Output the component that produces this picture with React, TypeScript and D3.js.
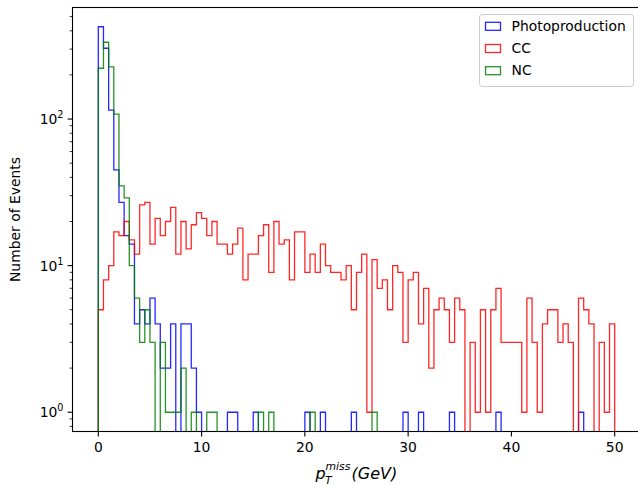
import * as d3 from "d3";
import { useEffect, useRef } from "react";

// 100 bins, 0.5 GeV wide, from 0 to 50 GeV
const binStart = 0;
const binWidth = 0.5;

const photoproduction = [
  426, 304, 115, 45, 27, 16, 14, 4, 5, 4,
  6, 4, 2, 2, 4, 0, 4, 4, 2, 1,
  0, 0, 0, 0, 0, 1, 1, 0, 0, 0,
  1, 0, 0, 0, 0, 0, 0, 0, 0, 0,
  1, 0, 0, 1, 0, 0, 0, 0, 0, 1,
  0, 0, 0, 0, 0, 0, 0, 0, 0, 1,
  0, 0, 1, 0, 0, 0, 0, 0, 1, 0,
  0, 0, 0, 0, 0, 0, 0, 1, 0, 0,
  0, 0, 0, 0, 0, 0, 0, 0, 0, 0,
  0, 0, 0, 1, 0, 0, 0, 0, 0, 0,
];

const cc = [
  5, 8, 10, 17, 16, 20, 15, 12, 26, 27,
  14, 21, 16, 20, 25, 12, 20, 13, 19, 23,
  21, 16, 20, 14, 14, 12, 14, 18, 8, 12,
  12, 16, 19, 9, 20, 14, 15, 8, 17, 17,
  9, 12, 9, 14, 10, 9, 9, 8, 10, 5,
  9, 12, 1, 11, 7, 8, 5, 10, 9, 3,
  8, 9, 4, 7, 2, 5, 6, 5, 3, 6,
  5, 0, 3, 1, 5, 1, 5, 7, 3, 3,
  3, 3, 1, 6, 3, 1, 4, 5, 5, 3,
  4, 3, 0, 6, 5, 4, 0, 3, 1, 4,
];

const nc = [
  222, 334, 227, 108, 35, 29, 10, 6, 3, 5,
  3, 0, 3, 1, 1, 1, 2, 0, 1, 0,
  0, 1, 1, 0, 0, 0, 0, 0, 0, 0,
  0, 1, 0, 1, 0, 0, 0, 0, 0, 0,
  0, 1, 0, 0, 0, 0, 0, 0, 0, 0,
  0, 0, 0, 1, 0, 0, 0, 0, 0, 0,
  0, 0, 0, 0, 0, 0, 0, 0, 0, 0,
  0, 0, 0, 0, 0, 0, 0, 0, 0, 0,
  0, 0, 0, 0, 0, 0, 0, 0, 0, 0,
  0, 0, 0, 0, 0, 0, 0, 0, 0, 0,
];

const seriesNames = ["Photoproduction", "CC", "NC"];
const seriesColors = ["#0000ff", "#ff0000", "#008000"];
const xTicks = [0, 10, 20, 30, 40, 50];
const yTickExponents = [0, 1, 2];

const FONT = "DejaVu Sans, sans-serif";

const App = () => {
  const ref = useRef(null);

  useEffect(() => {
    const svg = d3.select(ref.current);
    svg.selectAll("*").remove();

    const width = 638;
    const height = 486;
    const left = 72.5;
    const right = 640.5; // right spine falls just outside the picture
    const top = 7.5;
    const bottom = 431.5;

    svg.attr("width", width).attr("height", height);

    const allSeries = [photoproduction, cc, nc];
    const nBins = cc.length;
    const xMax = binStart + nBins * binWidth;

    // matplotlib-like 5% margins
    const pad = (xMax - binStart) * 0.05;
    const x = d3.scaleLinear().domain([binStart - pad, xMax + pad]).range([left, right]);

    const maxV = d3.max(allSeries.flat());
    const L = Math.log10(maxV);
    const y = d3
      .scaleLog()
      .domain([Math.pow(10, -0.05 * L), Math.pow(10, 1.05 * L)])
      .range([bottom, top]);

    svg
      .append("defs")
      .append("clipPath")
      .attr("id", "plot-clip")
      .append("rect")
      .attr("x", left)
      .attr("y", top)
      .attr("width", right - left)
      .attr("height", bottom - top);

    // step outlines, empty bins drop below the axis
    const yv = (v) => (v > 0 ? y(v) : bottom + 20);
    const line = d3
      .line()
      .x((d) => x(d[0]))
      .y((d) => yv(d[1]));

    const g = svg.append("g").attr("clip-path", "url(#plot-clip)");
    allSeries.forEach((counts, si) => {
      const pts = [[binStart, 0]];
      counts.forEach((c, i) => {
        const e0 = binStart + i * binWidth;
        pts.push([e0, c]);
        pts.push([e0 + binWidth, c]);
      });
      pts.push([xMax, 0]);
      g.append("path")
        .attr("d", line(pts))
        .attr("fill", "none")
        .attr("stroke", seriesColors[si])
        .attr("stroke-opacity", 0.85)
        .attr("stroke-width", 1.3);
    });

    // spines
    svg
      .append("rect")
      .attr("x", left)
      .attr("y", top)
      .attr("width", right - left)
      .attr("height", bottom - top)
      .attr("fill", "none")
      .attr("stroke", "black")
      .attr("stroke-width", 1.1);

    // x ticks
    const xt = svg.append("g");
    xTicks.forEach((t) => {
      xt.append("line")
        .attr("x1", x(t))
        .attr("x2", x(t))
        .attr("y1", bottom)
        .attr("y2", bottom + 4.9)
        .attr("stroke", "black")
        .attr("stroke-width", 1.1);
      xt.append("text")
        .attr("x", x(t))
        .attr("y", bottom + 20.5)
        .attr("text-anchor", "middle")
        .attr("font-family", FONT)
        .attr("font-size", 13.9)
        .text(t);
    });

    // y ticks, major and minor
    const yt = svg.append("g");
    const [d0, d1] = y.domain();
    for (let e = Math.floor(Math.log10(d0)); e <= Math.ceil(Math.log10(d1)); e++) {
      for (let m = 2; m <= 9; m++) {
        const v = m * Math.pow(10, e);
        if (v < d0 || v > d1) continue;
        yt.append("line")
          .attr("x1", left)
          .attr("x2", left - 2.8)
          .attr("y1", y(v))
          .attr("y2", y(v))
          .attr("stroke", "black")
          .attr("stroke-width", 0.8);
      }
    }
    yTickExponents.forEach((e) => {
      const v = Math.pow(10, e);
      yt.append("line")
        .attr("x1", left)
        .attr("x2", left - 4.9)
        .attr("y1", y(v))
        .attr("y2", y(v))
        .attr("stroke", "black")
        .attr("stroke-width", 1.1);
      const t = yt
        .append("text")
        .attr("x", left - 9)
        .attr("y", y(v) + 5)
        .attr("text-anchor", "end")
        .attr("font-family", FONT)
        .attr("font-size", 13.9);
      t.append("tspan").text("10");
      t.append("tspan").attr("dy", -6).attr("font-size", 9.7).text(e);
    });

    // axis labels
    svg
      .append("text")
      .attr("transform", `translate(20,${(top + bottom) / 2}) rotate(-90)`)
      .attr("text-anchor", "middle")
      .attr("font-family", FONT)
      .attr("font-size", 13.9)
      .text("Number of Events");

    const x0 = 315.5;
    const by = 479;
    const xl = svg
      .append("g")
      .attr("font-family", FONT)
      .attr("font-style", "italic");
    xl.append("text").attr("x", x0).attr("y", by).attr("font-size", 16).text("p");
    xl.append("text").attr("x", x0 + 10).attr("y", by - 9.5).attr("font-size", 10.8).text("miss");
    xl.append("text").attr("x", x0 + 9.5).attr("y", by + 5).attr("font-size", 10.8).text("T");
    xl.append("text").attr("x", x0 + 36).attr("y", by).attr("font-size", 16).text("(GeV)");

    // legend
    const lg = svg.append("g");
    lg.append("rect")
      .attr("x", 479.5)
      .attr("y", 14.5)
      .attr("width", 154)
      .attr("height", 72)
      .attr("rx", 2.8)
      .attr("fill", "white")
      .attr("fill-opacity", 0.8)
      .attr("stroke", "#cccccc")
      .attr("stroke-width", 1);
    seriesNames.forEach((name, i) => {
      const ry = 22.3 + i * 22.2;
      lg.append("rect")
        .attr("x", 485.5)
        .attr("y", ry)
        .attr("width", 15)
        .attr("height", 8)
        .attr("fill", "none")
        .attr("stroke", seriesColors[i])
        .attr("stroke-opacity", 0.85)
        .attr("stroke-width", 1.3);
      lg.append("text")
        .attr("x", 511.5)
        .attr("y", ry + 8.7)
        .attr("font-family", FONT)
        .attr("font-size", 13.9)
        .text(name);
    });
  }, []);

  return <svg ref={ref} style={{ position: "absolute", left: 0, top: 0 }}></svg>;
};

export default App;
